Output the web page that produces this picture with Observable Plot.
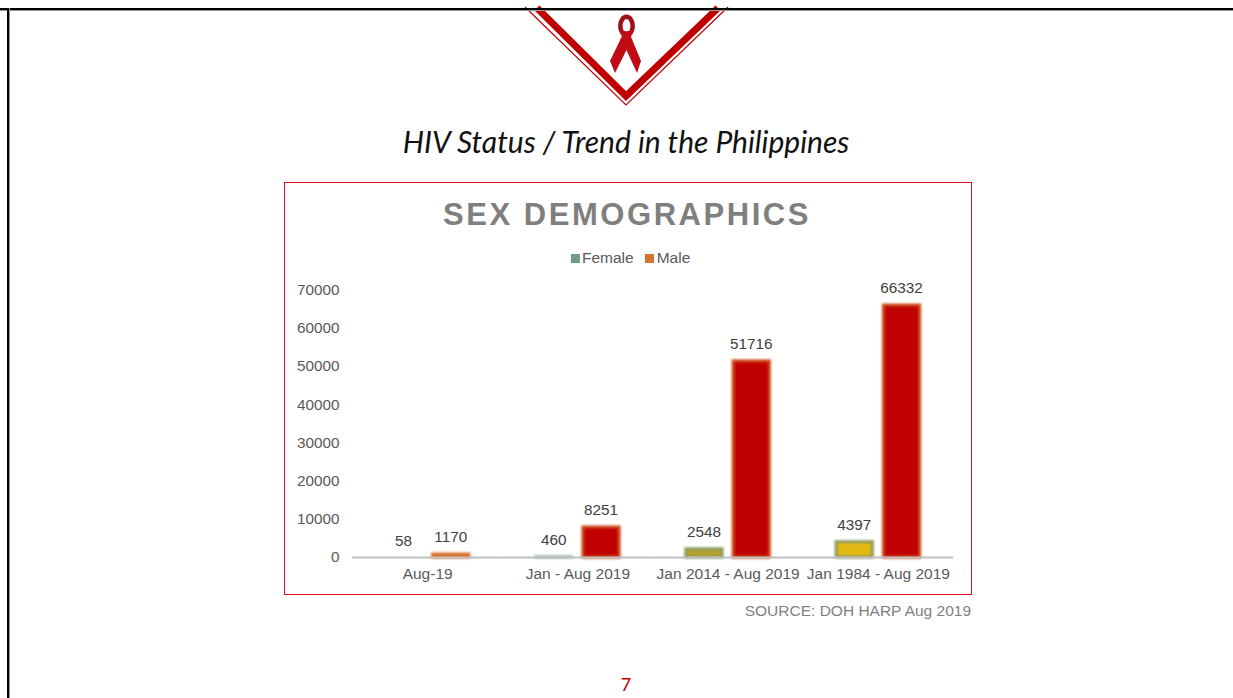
<!DOCTYPE html>
<html>
<head>
<meta charset="utf-8">
<script src="https://cdn.jsdelivr.net/npm/d3@7"></script>
<script src="https://cdn.jsdelivr.net/npm/@observablehq/plot@0.6"></script>
<style>
html,body{margin:0;padding:0;background:#fff;overflow:hidden}
#page{position:relative;width:1233px;height:698px;overflow:hidden}
#chart{position:absolute;left:0;top:0}
.t{position:absolute;white-space:nowrap;font-family:"Liberation Sans",Arial,sans-serif}
.c{transform:translateX(-50%)}
.sw{display:inline-block;width:9px;height:9px}
#border-top{position:absolute;left:0;top:8px;width:1233px;height:2px;background:#000;box-shadow:0 1px 0 #999}
#border-left{position:absolute;left:7px;top:8px;width:2px;height:690px;background:#000;box-shadow:1px 0 0 #999}
#box{position:absolute;left:284px;top:182px;border:1px solid #e0101a;box-sizing:border-box;width:688px;height:413px}
#deco{position:absolute;left:0;top:0}
</style>
</head>
<body>
<div id="page">
  <div id="box"></div>
  <div id="chart"></div>
  <svg id="deco" width="1233" height="698" viewBox="0 0 1233 698">
    <path d="M537 8 L626 96 L718 8" fill="none" stroke="#c00000" stroke-width="7"/>
    <path d="M525 7 L626 105 L728 7" fill="none" stroke="#c00000" stroke-width="1.2"/>
    <g style="filter:blur(0.6px)">
      <ellipse cx="626.5" cy="26" rx="6.2" ry="9.2" fill="none" stroke="#a00f18" stroke-width="4.5"/>
      <path d="M620 30 L629 32 L641 61 L637 73 L625 47 Z" fill="#c00a14"/>
      <path d="M633 30 L624 32 L610 61 L615 73 L628 47 Z" fill="#c00a14"/>
    </g>
  </svg>
  <div id="border-top"></div>
  <div id="border-left"></div>
  <div class="t c" id="main" style="left:626px;top:123px;font-family:Lato;font-style:italic;font-size:30px;color:#111">HIV Status / Trend in the Philippines</div>
  <div class="t c" id="ct" style="left:627px;top:197px;font-weight:bold;font-size:31px;letter-spacing:2.55px;color:#7f7f7f">SEX DEMOGRAPHICS</div>
  <div class="t" id="legend" style="left:571px;top:249px;font-size:15.5px;color:#595959"></div>
  <div class="t" id="src" style="right:262px;top:602px;font-size:15.5px;color:#7f7f7f">SOURCE: DOH HARP Aug 2019</div>
  <div class="t c" style="left:626px;top:673px;font-family:Lato;font-size:18px;color:#c00000">7</div>
</div>
<script>
const periods = ["Aug-19", "Jan - Aug 2019", "Jan 2014 - Aug 2019", "Jan 1984 - Aug 2019"];
const femaleValues = [58, 460, 2548, 4397];
const maleValues = [1170, 8251, 51716, 66332];
const femaleFills = ["#c5d5dc", "#a5b8bc", "#b5a22e", "#e6b912"];
const femaleEdges = ["#c5d5dc", "#a5b8bc", "#8c9a60", "#8c9a60"];
const maleFills = ["#d9692a", "#c00000", "#c00000", "#c00000"];
const maleEdges = ["#d9722d", "#cc4a1a", "#cc4a1a", "#cc4a1a"];
const seriesNames = ["Female", "Male"];
const legendColors = ["#6f9a86", "#d9722d"];

const rows = [
  ...periods.map((p, i) => ({period: p, sex: "Female", value: femaleValues[i], fill: femaleFills[i], edge: femaleEdges[i]})),
  ...periods.map((p, i) => ({period: p, sex: "Male", value: maleValues[i], fill: maleFills[i], edge: maleEdges[i]}))
];

const chart = Plot.plot({
  width: 1233,
  height: 698,
  marginLeft: 352,
  marginRight: 280,
  marginTop: 289.5,
  marginBottom: 141,
  style: {background: "transparent", fontFamily: "Liberation Sans, Arial, sans-serif"},
  fx: {domain: periods, padding: 0, round: false, label: null},
  x: {domain: seriesNames, paddingInner: 0.169, paddingOuter: 0.673, round: false, axis: null},
  y: {domain: [0, 70000], label: null},
  marks: [
    Plot.axisY({ticks: d3.range(0, 70001, 10000), tickSize: 0, tickPadding: 13, tickFormat: "d", fontSize: 15.3, color: "#595959", label: null}),
    Plot.axisFx({anchor: "bottom", tickSize: 0, tickPadding: 10.5, fontSize: 15.5, color: "#595959", label: null}),
    Plot.barY(rows, {
      fx: "period", x: "sex", y: "value",
      fill: d => d.fill, stroke: d => d.edge, strokeWidth: 3, insetLeft: 1.5, insetRight: 1.5, insetTop: 1.5,
      imageFilter: "blur(1px)"
    }),
    Plot.ruleY([0], {stroke: "#bfbfbf", strokeWidth: 2}),
    Plot.text(rows, {
      fx: "period", x: "sex", y: "value", text: d => String(d.value),
      dy: -16, dx: -0.5, fontSize: 15.3, fill: "#404040"
    })
  ]
});
document.getElementById("chart").appendChild(chart);

const legend = document.getElementById("legend");
seriesNames.forEach((name, i) => {
  const item = document.createElement("span");
  item.style.marginRight = i === 0 ? "11px" : "0";
  const sw = document.createElement("span");
  sw.className = "sw";
  sw.style.background = legendColors[i];
  sw.style.marginRight = i === 0 ? "2px" : "3px";
  item.appendChild(sw);
  item.appendChild(document.createTextNode(name));
  legend.appendChild(item);
});
</script>
</body>
</html>
